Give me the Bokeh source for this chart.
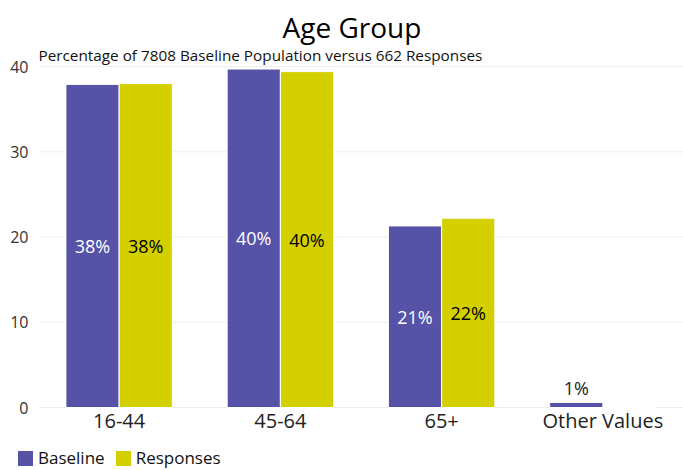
from bokeh.plotting import figure
from bokeh.models import (ColumnDataSource, Range1d, Legend, LegendItem,
                          Label, LabelSet, FixedTicker)
from bokeh.core.properties import value
from bokeh.transform import dodge
from bokeh.embed import file_html
from bokeh.resources import INLINE

categories = ["16-44", "45-64", "65+", "Other Values"]
baseline = [37.9, 39.7, 21.3, 0.6]
responses = [38.0, 39.4, 22.2, 0.0]
baseline_labels = ["38%", "40%", "21%", "1%"]
responses_labels = ["38%", "40%", "22%", ""]
y_ticks = [0, 10, 20, 30, 40]
title_text = "Age Group"
subtitle_text = "Percentage of 7808 Baseline Population versus 662 Responses"

PURPLE = "#5652a8"
YELLOW = "#d4d000"
FONT = "Open Sans"

# layout geometry (pixels)
W, H = 683, 470
LEFT_PAD_PX, BOTTOM_PAD_PX, TOP_PAD_PX, PLOT_H_PX = 38, 63, 66, 341
n = len(categories)
cat_px = (W - LEFT_PAD_PX) / n
px_per_unit = PLOT_H_PX / max(y_ticks)
x_lo = -LEFT_PAD_PX / cat_px
y_hi = max(y_ticks) + TOP_PAD_PX / px_per_unit
y_lo = -BOTTOM_PAD_PX / px_per_unit

xs = [i + 0.5 for i in range(n)]

def label_pos(vals):
    return [v / 2 if v > 5 else v + 1.7 for v in vals]

def label_col(vals, inside):
    return [inside if v > 5 else "#222222" for v in vals]

src = ColumnDataSource(dict(
    x=xs, cat=categories, baseline=baseline, responses=responses,
    bl=baseline_labels, rl=responses_labels,
    by=label_pos(baseline), ry=label_pos(responses),
    bc=label_col(baseline, "white"), rc=label_col(responses, "black"),
))

p = figure(x_range=Range1d(x_lo, n), y_range=Range1d(y_lo, y_hi),
           frame_width=W, frame_height=H,
           output_backend="svg", toolbar_location=None,
           min_border_left=0, min_border_right=0, min_border_top=0, min_border_bottom=0)
p.outline_line_color = None
p.xgrid.visible = False
p.ygrid.visible = False

# horizontal grid lines over the category area
p.segment(x0=[0] * len(y_ticks), x1=[n] * len(y_ticks), y0=y_ticks, y1=y_ticks,
          line_color="#eeeeee", line_width=1)

r1 = p.vbar(x=dodge("x", -0.165), top="baseline", width=0.33,
            source=src, fill_color=PURPLE, line_color="white", line_width=1)
r2 = p.vbar(x=dodge("x", 0.165), top="responses", width=0.33,
            source=src, fill_color=YELLOW, line_color="white", line_width=1)

p.add_layout(LabelSet(x=dodge("x", -0.165), y="by", text="bl",
                      source=src, text_align="center", text_baseline="middle",
                      text_color="bc", text_font=value(FONT), text_font_size="18px"))
p.add_layout(LabelSet(x=dodge("x", 0.165), y="ry", text="rl",
                      source=src, text_align="center", text_baseline="middle",
                      text_color="rc", text_font=value(FONT), text_font_size="18px"))

p.add_layout(Label(x=351.5, y=H - 26, x_units="screen", y_units="screen",
                   text=title_text, text_align="center", text_baseline="alphabetic",
                   text_font=FONT, text_font_size="28px", text_color="black"))
p.add_layout(Label(x=LEFT_PAD_PX, y=H - 54, x_units="screen", y_units="screen",
                   text=subtitle_text, text_align="left", text_baseline="alphabetic",
                   text_font=FONT, text_font_size="15.3px", text_color="#111111"))

p.yaxis.fixed_location = 0
p.yaxis.ticker = FixedTicker(ticks=y_ticks)
p.yaxis.axis_line_color = None
p.yaxis.major_tick_line_color = None
p.yaxis.minor_tick_line_color = None
p.yaxis.major_label_text_font = FONT
p.yaxis.major_label_text_font_size = "16px"
p.yaxis.major_label_text_color = "#333333"
p.yaxis.major_label_standoff = 4

# category axis raised slightly so its labels sit just under the zero line
p.xaxis.fixed_location = 7 / px_per_unit
p.xaxis.ticker = FixedTicker(ticks=xs)
p.xaxis.major_label_overrides = {x: c for x, c in zip(xs, categories)}
p.xaxis.axis_line_color = None
p.xaxis.major_tick_line_color = None
p.xaxis.minor_tick_line_color = None
p.xaxis.major_label_text_font = FONT
p.xaxis.major_label_text_font_size = "20px"
p.xaxis.major_label_text_color = "#222222"
p.xaxis.major_label_standoff = 0

legend = Legend(items=[LegendItem(label="Baseline", renderers=[r1]),
                       LegendItem(label="Responses", renderers=[r2])],
                orientation="horizontal", location=(15, 1),
                label_text_font=FONT, label_text_font_size="17px",
                label_text_color="#111111", glyph_width=20, glyph_height=20,
                label_standoff=3, spacing=8, padding=0, margin=0,
                border_line_color=None, background_fill_alpha=0)
p.add_layout(legend, "center")

open("out.html", "w").write(file_html(p, INLINE))
